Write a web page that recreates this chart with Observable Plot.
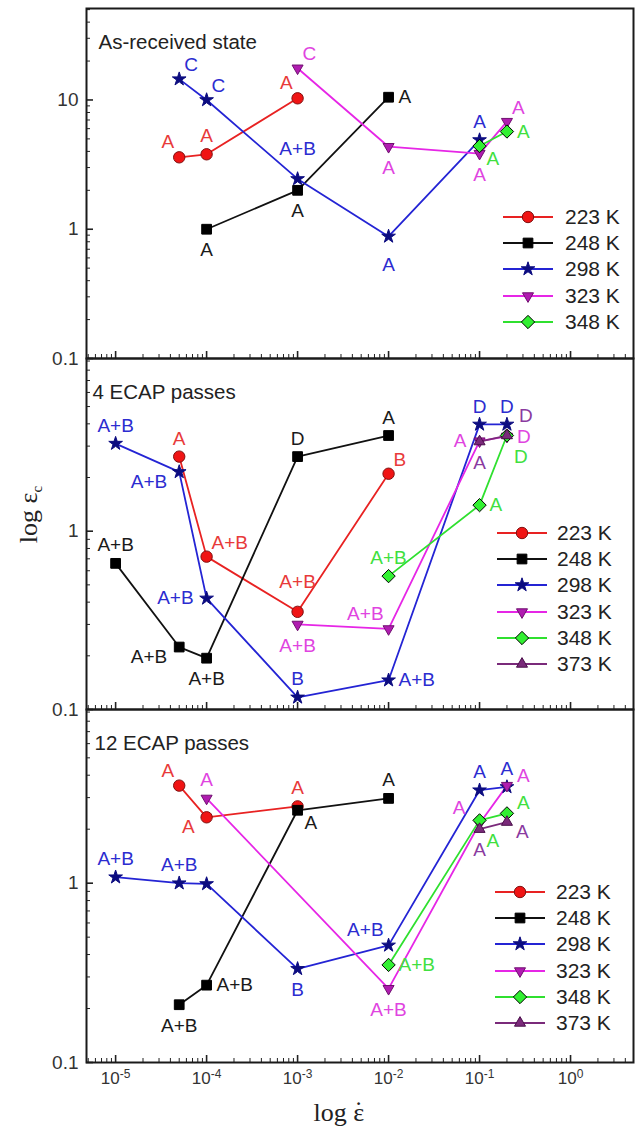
<!DOCTYPE html>
<html><head><meta charset="utf-8">
<script src="https://cdn.jsdelivr.net/npm/d3@7"></script>
<script src="https://cdn.jsdelivr.net/npm/@observablehq/plot@0.6"></script>
<style>
body{margin:0;background:#fff;}
#chart{position:relative;width:642px;height:1126px;background:#fff;font-family:"Liberation Sans",Arial,sans-serif;overflow:hidden;color:#222;}
#chart > svg{position:absolute;left:0;}
.lrow{position:absolute;height:24px;line-height:24px;font-size:21px;white-space:nowrap;display:flex;align-items:center;}
.ylab{position:absolute;font-family:"Liberation Serif","Times New Roman",serif;font-size:26px;white-space:nowrap;line-height:1.2;}
</style></head><body><div id="chart"></div>
<script>
// ---------- data ----------
const temps = ["223 K","248 K","298 K","323 K","348 K","373 K"];
const xTickValues = [1e-5,1e-4,1e-3,1e-2,1e-1,1];
const xTickLabels = ["10^-5","10^-4","10^-3","10^-2","10^-1","10^0"];
const yTickValues1 = [0.1,1,10];
const yTickLabels1 = ["0.1","1","10"];
const yTickValues23 = [0.1,1];
const yTickLabels23 = ["0.1","1"];
const panelTitles = ["As-received state","4 ECAP passes","12 ECAP passes"];

// As-received state
const ar223x = [5e-5,1e-4,1e-3],            ar223y = [3.6,3.8,10.3],        ar223lab = ["A","A","A"];
const ar248x = [1e-4,1e-3,1e-2],            ar248y = [1.0,2.0,10.5],        ar248lab = ["A","A","A"];
const ar298x = [5e-5,1e-4,1e-3,1e-2,1e-1],  ar298y = [14.5,10,2.45,0.88,4.9], ar298lab = ["C","C","A+B","A","A"];
const ar323x = [1e-3,1e-2,1e-1,0.2],        ar323y = [17.6,4.35,3.85,6.8],  ar323lab = ["C","A","A","A"];
const ar348x = [1e-1,0.2],                  ar348y = [4.4,5.7],             ar348lab = ["A","A"];

// 4 ECAP passes
const e4_223x = [5e-5,1e-4,1e-3,1e-2],        e4_223y = [2.62,0.72,0.353,2.1],   e4_223lab = ["A","A+B","A+B","B"];
const e4_248x = [1e-5,5e-5,1e-4,1e-3,1e-2],   e4_248y = [0.66,0.224,0.194,2.62,3.44], e4_248lab = ["A+B","A+B","A+B","D","A"];
const e4_298x = [1e-5,5e-5,1e-4,1e-3,1e-2,1e-1,0.2], e4_298y = [3.1,2.15,0.42,0.117,0.146,3.97,3.97], e4_298lab = ["A+B","A+B","A+B","B","A+B","D","D"];
const e4_323x = [1e-3,1e-2,1e-1,0.2],         e4_323y = [0.30,0.283,3.2,3.4],    e4_323lab = ["A+B","A+B","A","D"];
const e4_348x = [1e-2,1e-1,0.2],              e4_348y = [0.56,1.4,3.44],         e4_348lab = ["A+B","A","D"];
const e4_373x = [1e-1,0.2],                   e4_373y = [3.18,3.44],             e4_373lab = ["A","D"];

// 12 ECAP passes
const e12_223x = [5e-5,1e-4,1e-3],            e12_223y = [3.5,2.33,2.68],        e12_223lab = ["A","A","A"];
const e12_248x = [5e-5,1e-4,1e-3,1e-2],       e12_248y = [0.21,0.27,2.55,2.97],  e12_248lab = ["A+B","A+B","A","A"];
const e12_298x = [1e-5,5e-5,1e-4,1e-3,1e-2,1e-1,0.2], e12_298y = [1.08,1.0,0.99,0.333,0.45,3.3,3.44], e12_298lab = ["A+B","A+B","","B","A+B","A","A"];
const e12_323x = [1e-4,1e-2,1e-1,0.2],        e12_323y = [2.97,0.258,2.15,3.5],  e12_323lab = ["A","A+B","A","A"];
const e12_348x = [1e-2,1e-1,0.2],             e12_348y = [0.35,2.24,2.45],       e12_348lab = ["A+B","A","A"];
const e12_373x = [1e-1,0.2],                  e12_373y = [2.0,2.19],             e12_373lab = ["A","A"];

// ---------- label placement (layout, separate from data) ----------
const ar223pos = ["nw","n","nw"], ar248pos = ["s","s","e"], ar298pos = ["ne","ne","N","S","n"], ar323pos = ["ne","s","s","ne"], ar348pos = ["se","e"];
const e4_223pos = ["n","ne","N","ne"], e4_248pos = ["n","sw","s","n","n"], e4_298pos = ["n","sw","w","n","e","n","n"], e4_323pos = ["s","nw","w","e"], e4_348pos = ["n","e","SE"], e4_373pos = ["s","NE"];
const e12_223pos = ["nw","sw","n"], e12_248pos = ["s","e","se","n"], e12_298pos = ["n","n","","s","nw","n","n"], e12_323pos = ["n","s","NW","eu"], e12_348pos = ["e","SE","eu"], e12_373pos = ["s","ed"];
const placements = {
  n:{dx:0,dy:-18,a:"middle"}, N:{dx:0,dy:-30,a:"middle"}, s:{dx:0,dy:21,a:"middle"}, S:{dx:0,dy:28,a:"middle"},
  e:{dx:10,dy:0,a:"start"}, eu:{dx:10,dy:-10,a:"start"}, ed:{dx:9,dy:10,a:"start"}, w:{dx:-13,dy:0,a:"end"},
  ne:{dx:5,dy:-14,a:"start"}, NE:{dx:12,dy:-20,a:"start"}, nw:{dx:-5,dy:-15,a:"end"}, NW:{dx:-14,dy:-16,a:"end"},
  se:{dx:7,dy:13,a:"start"}, SE:{dx:7,dy:21,a:"start"}, sw:{dx:-12,dy:10,a:"end"}
};

// ---------- styles ----------
const lineColors   = ["#e82222","#111111","#2424d4","#e626e6","#2fe02f","#7a2a7a"];
const markerFills  = ["#f01414","#000000","#0c0c80","#b01cb0","#32f032","#7a2a7a"];
const markerStroke = ["#801010","#000000","#0c0c80","#701070","#000000","#4a104a"];
const labelColors  = ["#e83a3a","#1a1a1a","#2c2cd0","#e044e0","#40e040","#8a3aa0"];
const symbolNames  = ["circle","square","star","triangle","diamond2","triangle"];
const d3Symbols    = [d3.symbolCircle,d3.symbolSquare,d3.symbolStar,d3.symbolTriangle,d3.symbolDiamond2,d3.symbolTriangle];
const symbolRotate = [0,0,0,180,0,0];
const symbolR      = [5.7,5.5,4.3,4.1,6.0,4.1];

const xDomain = [10**-5.32, 10**0.692];
const xMinor = d3.range(-6,1).flatMap(k => d3.range(2,10).map(m => m*10**k)).filter(v => v>=xDomain[0] && v<=xDomain[1]);
function yMinorFor(dom){ return d3.range(-1,2).flatMap(k => d3.range(2,10).map(m => m*10**k)).filter(v => v>=dom[0] && v<=dom[1]); }

function mk(x,y,lab,pos){ return x.map((v,i)=>({x:v,y:y[i],lab:lab[i],pos:pos[i]})); }

const panels = [
  {title: panelTitles[0], titleDx: 12, yDomain:[0.1,51], yT:yTickValues1, yL:yTickLabels1, frameTop:8, ph:350, mt:8, mb:14, xLabels:false,
   series:[[0,mk(ar223x,ar223y,ar223lab,ar223pos)],[1,mk(ar248x,ar248y,ar248lab,ar248pos)],[2,mk(ar298x,ar298y,ar298lab,ar298pos)],[3,mk(ar323x,ar323y,ar323lab,ar323pos)],[4,mk(ar348x,ar348y,ar348lab,ar348pos)]],
   legendLeft:503, legendTextLeft:565, legendTop:217},
  {title: panelTitles[1], titleDx: 6, yDomain:[0.1,9.3], yT:yTickValues23, yL:yTickLabels23, frameTop:358, ph:351, mt:10, mb:14, xLabels:false,
   series:[[0,mk(e4_223x,e4_223y,e4_223lab,e4_223pos)],[1,mk(e4_248x,e4_248y,e4_248lab,e4_248pos)],[2,mk(e4_298x,e4_298y,e4_298lab,e4_298pos)],[3,mk(e4_323x,e4_323y,e4_323lab,e4_323pos)],[4,mk(e4_348x,e4_348y,e4_348lab,e4_348pos)],[5,mk(e4_373x,e4_373y,e4_373lab,e4_373pos)]],
   legendLeft:497, legendTextLeft:557, legendTop:533},
  {title: panelTitles[2], titleDx: 8, yDomain:[0.1,9.3], yT:yTickValues23, yL:yTickLabels23, frameTop:709, ph:353, mt:10, mb:40, xLabels:true,
   series:[[0,mk(e12_223x,e12_223y,e12_223lab,e12_223pos)],[1,mk(e12_248x,e12_248y,e12_248lab,e12_248pos)],[2,mk(e12_298x,e12_298y,e12_298lab,e12_298pos)],[3,mk(e12_323x,e12_323y,e12_323lab,e12_323pos)],[4,mk(e12_348x,e12_348y,e12_348lab,e12_348pos)],[5,mk(e12_373x,e12_373y,e12_373lab,e12_373pos)]],
   legendLeft:495, legendTextLeft:556, legendTop:892}
];

const chart = document.getElementById("chart");

for (const p of panels) {
  const marks = [];
  marks.push(Plot.axisY({ticks: yMinorFor(p.yDomain), tickSize:-4, tickFormat:()=>"", label:null, stroke:"#222"}));
  marks.push(Plot.axisY({ticks: p.yT, tickSize:-7, tickPadding:15, tickFormat:(d)=>p.yL[p.yT.indexOf(d)], label:null, stroke:"#222", strokeWidth:1.6, fill:"#333", fontSize:19}));
  marks.push(Plot.axisX({ticks: xMinor, tickSize:-4, tickFormat:()=>"", label:null, stroke:"#222"}));
  marks.push(Plot.axisX({ticks: xTickValues, tickSize:-7, tickPadding:16, tickFormat: p.xLabels ? (d)=>xTickLabels[xTickValues.indexOf(d)] : ()=>"", label:null, stroke:"#222", strokeWidth:1.6, fill:"#333", fontSize:17}));
  for (const [i, rows] of p.series) {
    marks.push(Plot.line(rows, {x:"x", y:"y", stroke: lineColors[i], strokeWidth:1.8}));
  }
  for (const [i, rows] of p.series) {
    marks.push(Plot.dot(rows, {x:"x", y:"y", symbol: symbolNames[i], r: symbolR[i], fill: markerFills[i], stroke: markerStroke[i], strokeWidth:1, rotate: symbolRotate[i]}));
  }
  for (const [i, rows] of p.series) {
    for (const [code, pl] of Object.entries(placements)) {
      const sub = rows.filter(d => d.pos === code && d.lab);
      if (!sub.length) continue;
      marks.push(Plot.text(sub, {x:"x", y:"y", text:"lab", dx:pl.dx, dy:pl.dy, textAnchor:pl.a, fill: labelColors[i], fontSize:19}));
    }
  }
  marks.push(Plot.text([p.title], {text: d=>d, frameAnchor:"top-left", dx:p.titleDx, dy:26, textAnchor:"start", fontSize:20.5, fill:"#222"}));
  marks.push(Plot.frame({stroke:"#1a1a1a", strokeWidth:2}));

  const svg = Plot.plot({
    width: 642, height: p.mt + p.ph + p.mb,
    marginLeft: 86, marginRight: 9, marginTop: p.mt, marginBottom: p.mb,
    x: {type:"log", domain: xDomain},
    y: {type:"log", domain: p.yDomain},
    style: {background:"transparent", overflow:"visible", fontFamily:'"Liberation Sans", Arial, sans-serif', fontSize:"17px", color:"#222"},
    marks
  });
  svg.style.top = (p.frameTop - p.mt) + "px";
  chart.appendChild(svg);

  // superscript exponents in x tick labels
  svg.querySelectorAll('g[aria-label="x-axis tick label"] text').forEach(t => {
    const s = t.textContent;
    if (!s.includes("^")) return;
    const [base, exp] = s.split("^");
    t.textContent = base;
    const ts = document.createElementNS("http://www.w3.org/2000/svg","tspan");
    ts.setAttribute("dy","-0.45em");
    ts.setAttribute("font-size","12");
    ts.textContent = exp;
    t.appendChild(ts);
  });

  // legend
  p.series.forEach(([i], k) => {
    const row = document.createElement("div");
    row.className = "lrow";
    row.style.left = p.legendLeft + "px";
    row.style.top = (p.legendTop + k*26.2 - 12) + "px";
    const w = 50, h = 24;
    const sym = d3.symbol(d3Symbols[i], Math.PI*symbolR[i]*symbolR[i])();
    row.innerHTML = `<svg width="${w}" height="${h}" style="overflow:visible;display:block"><line x1="0" x2="${w}" y1="${h/2}" y2="${h/2}" stroke="${lineColors[i]}" stroke-width="1.8"/><path d="${sym}" transform="translate(${w/2},${h/2}) rotate(${symbolRotate[i]})" fill="${markerFills[i]}" stroke="${markerStroke[i]}" stroke-width="1"/></svg><span style="margin-left:${p.legendTextLeft - p.legendLeft - w}px">${temps[i]}</span>`;
    chart.appendChild(row);
  });
}

// axis titles
const yl = document.createElement("div");
yl.className = "ylab";
yl.innerHTML = 'log \u03B5<sub style="font-size:15px;vertical-align:-5px">c</sub>';
chart.appendChild(yl);
yl.style.left = (29 - yl.offsetWidth/2) + "px";
yl.style.top = (514 - yl.offsetHeight/2) + "px";
yl.style.transform = "rotate(-90deg)";

const xl = document.createElement("div");
xl.className = "ylab";
xl.innerHTML = 'log <span style="position:relative;display:inline-block">\u03B5<span style="position:absolute;left:0;right:0;top:-2px;text-align:center">\u02D9</span></span>';
chart.appendChild(xl);
xl.style.left = (339 - xl.offsetWidth/2) + "px";
xl.style.top = (1112 - xl.offsetHeight/2) + "px";
</script></body></html>
